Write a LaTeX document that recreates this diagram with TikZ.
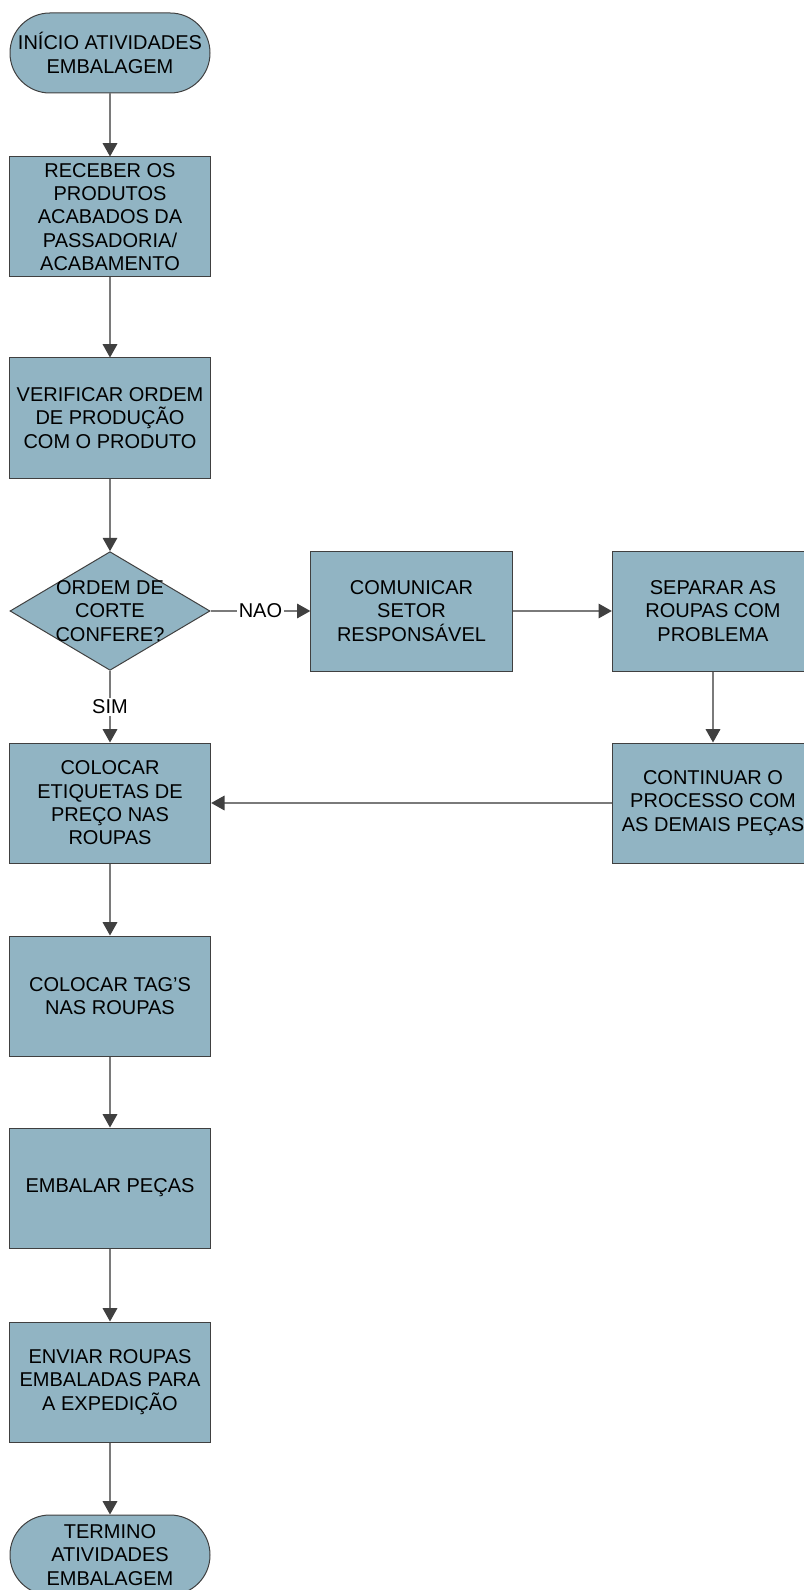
\documentclass[tikz,border=0pt]{standalone}
\usepackage{fontspec}
\setmainfont{Liberation Sans}
\usetikzlibrary{arrows.meta,shapes.geometric}
\definecolor{boxfill}{HTML}{91B4C3}
\definecolor{boxline}{HTML}{404040}
\definecolor{arrline}{HTML}{7A7A7A}

\begin{document}
\begin{tikzpicture}[x=0.75pt,y=0.75pt,
	font=\fontsize{15}{17.5}\selectfont,
	>={Triangle[width=11pt,length=10pt,color=boxline]},
	proc/.style={rectangle, draw=boxline, fill=boxfill, line width=0.75pt, align=center, inner sep=0pt, minimum width=151pt, minimum height=90pt},
	term/.style={rectangle, rounded corners=29.9pt, draw=boxline, fill=boxfill, line width=0.75pt, align=center, inner sep=0pt, minimum width=150pt, minimum height=60pt},
	dec/.style={diamond, draw=boxline, fill=boxfill, line width=0.75pt, inner sep=0pt, minimum width=150pt, minimum height=89pt},
	flow/.style={arrline, line width=0.9pt},
	lbl/.style={fill=white, text=black, inner sep=1.5pt}]
	\useasboundingbox (0,0) rectangle (803,-1590);
	\node[term] (ini) at (110,-53){INÍCIO ATIVIDADES\\EMBALAGEM};
	\node[proc] (rec) at (110,-217){RECEBER OS\\PRODUTOS\\ACABADOS DA\\PASSADORIA/\\ACABAMENTO};
	\node[proc] (ver) at (110,-418){VERIFICAR ORDEM\\DE PRODUÇÃO\\COM O PRODUTO};
	\node[dec, label={[align=center]center:ORDEM DE\\CORTE\\CONFERE?}] (ord) at (110,-611){};
	\node[proc] (com) at (411.5,-611){COMUNICAR\\SETOR\\RESPONSÁVEL};
	\node[proc] (sep) at (713,-611){SEPARAR AS\\ROUPAS COM\\PROBLEMA};
	\node[proc] (cont) at (713,-803){CONTINUAR O\\PROCESSO COM\\AS DEMAIS PEÇAS};
	\node[proc] (eti) at (110,-803){COLOCAR\\ETIQUETAS DE\\PREÇO NAS\\ROUPAS};
	\node[proc] (tag) at (110,-996){COLOCAR TAG’S\\NAS ROUPAS};
	\node[proc] (emb) at (110,-1188){EMBALAR PEÇAS};
	\node[proc] (env) at (110,-1382){ENVIAR ROUPAS\\EMBALADAS PARA\\A EXPEDIÇÃO};
	\node[term] (fim) at (110,-1555){TERMINO\\ATIVIDADES\\EMBALAGEM};
	\draw[->, flow] (ini) -- (rec);
	\draw[->, flow] (rec) -- (ver);
	\draw[->, flow] (ver) -- (ord);
	\draw[->, flow] (ord) -- node[lbl] (nao){NAO} (com);
	\draw[->, flow] (ord) -- node[lbl] (sim){SIM} (eti);
	\draw[->, flow] (com) -- (sep);
	\draw[->, flow] (sep) -- (cont);
	\draw[->, flow] (cont) -- (eti);
	\draw[->, flow] (eti) -- (tag);
	\draw[->, flow] (tag) -- (emb);
	\draw[->, flow] (emb) -- (env);
	\draw[->, flow] (env) -- (fim);
\end{tikzpicture}
\end{document}
